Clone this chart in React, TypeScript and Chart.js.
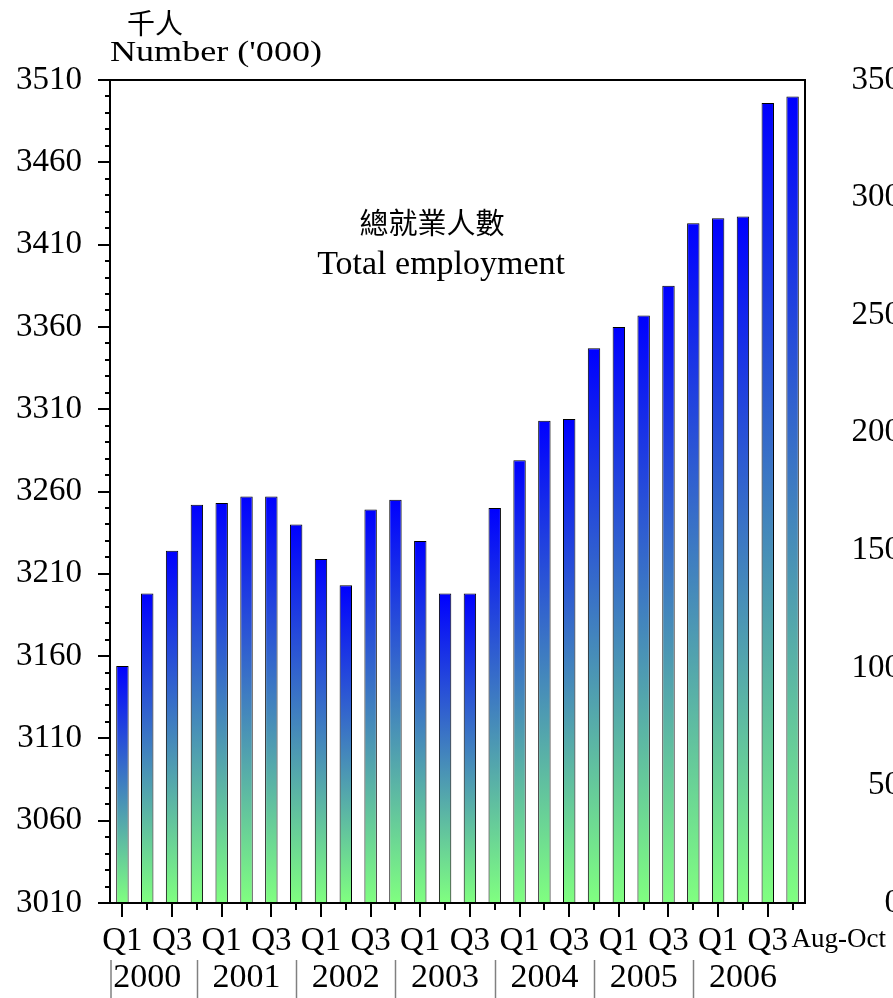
import { useEffect, useRef } from 'react';
import { Chart, registerables } from 'chart.js';

Chart.register(...registerables);

// ---------------- data ----------------
const categories: string[] = [
  'Q1', 'Q2', 'Q3', 'Q4', // 2000
  'Q1', 'Q2', 'Q3', 'Q4', // 2001
  'Q1', 'Q2', 'Q3', 'Q4', // 2002
  'Q1', 'Q2', 'Q3', 'Q4', // 2003
  'Q1', 'Q2', 'Q3', 'Q4', // 2004
  'Q1', 'Q2', 'Q3', 'Q4', // 2005
  'Q1', 'Q2', 'Q3', 'Aug-Oct', // 2006
];
const years: string[] = ['2000', '2001', '2002', '2003', '2004', '2005', '2006'];
const employment: number[] = [
  3154, 3198, 3224, 3252,
  3253, 3257, 3257, 3240,
  3219, 3203, 3249, 3255,
  3230, 3198, 3198, 3250,
  3279, 3303, 3304, 3347,
  3360, 3367, 3385, 3423,
  3426, 3427, 3496, 3500,
];
const leftTicks: number[] = [3010, 3060, 3110, 3160, 3210, 3260, 3310, 3360, 3410, 3460, 3510];
const rightTicks: number[] = [0, 50, 100, 150, 200, 250, 300, 350];
const shownLabels: string[] = ['Q1', 'Q3'];
const unitZh = '千人';
const unitEn = "Number ('000)";
const seriesZh = '總就業人數';
const seriesEn = 'Total employment';

const SERIF = '"Liberation Serif", "Times New Roman", serif';
const CJK = '"Noto Sans CJK TC", "Noto Sans CJK SC", sans-serif';
const MINOR_STEP = 10;

const overlayPlugin = {
  id: 'overlay',
  afterDraw(chart: any) {
    const ctx: CanvasRenderingContext2D = chart.ctx;
    const xs = chart.scales.x;
    const ys = chart.scales.y;
    const { left, right, top, bottom } = chart.chartArea;
    const H = chart.height;
    ctx.save();
    // frame
    ctx.strokeStyle = '#000';
    ctx.lineWidth = 2;
    ctx.strokeRect(left, top, right - left, bottom - top);

    // minor y ticks
    ctx.lineWidth = 2;
    for (let v = ys.min + MINOR_STEP; v < ys.max; v += MINOR_STEP) {
      if (leftTicks.includes(v)) continue;
      const py = Math.round(ys.getPixelForValue(v));
      ctx.beginPath();
      ctx.moveTo(left - 5, py);
      ctx.lineTo(left, py);
      ctx.stroke();
    }

    // x ticks
    categories.forEach((c, i) => {
      const px = Math.round(xs.getPixelForValue(i));
      const len = shownLabels.includes(c) ? 14 : 7;
      ctx.beginPath();
      ctx.moveTo(px, bottom);
      ctx.lineTo(px, bottom + len);
      ctx.stroke();
    });

    // quarter labels
    ctx.fillStyle = '#000';
    ctx.textBaseline = 'alphabetic';
    categories.forEach((c, i) => {
      const px = xs.getPixelForValue(i);
      if (shownLabels.includes(c)) {
        ctx.font = `33px ${SERIF}`;
        ctx.textAlign = 'center';
        ctx.fillText(c, px, bottom + 47);
      } else if (i === categories.length - 1) {
        ctx.font = `27px ${SERIF}`;
        ctx.textAlign = 'left';
        ctx.fillText(c, px - 1, bottom + 44);
      }
    });

    // year labels
    ctx.font = `34px ${SERIF}`;
    ctx.textAlign = 'center';
    years.forEach((yr, k) => {
      const px = xs.getPixelForValue(k * 4 + 1);
      ctx.fillText(yr, px, bottom + 84);
    });

    // year separators
    ctx.strokeStyle = '#808080';
    ctx.lineWidth = 1.5;
    const seps = [left + 1];
    for (let k = 0; k < years.length - 1; k++) seps.push(Math.round(xs.getPixelForValue(k * 4 + 3)) + 0.5);
    seps.forEach((sx) => {
      ctx.beginPath();
      ctx.moveTo(sx, bottom + 57);
      ctx.lineTo(sx, H);
      ctx.stroke();
    });

    // unit titles
    ctx.fillStyle = '#000';
    ctx.font = `28px ${CJK}`;
    ctx.textAlign = 'center';
    ctx.textBaseline = 'middle';
    ctx.fillText(unitZh, left + 45, top - 57);

    ctx.font = `30px ${SERIF}`;
    ctx.textAlign = 'left';
    ctx.textBaseline = 'alphabetic';
    const w = ctx.measureText(unitEn).width;
    ctx.save();
    ctx.translate(left, top - 19);
    ctx.scale(212 / w, 1);
    ctx.fillText(unitEn, 0, 0);
    ctx.restore();

    // series annotation
    const cx = xs.getPixelForValue(13) - 8;
    ctx.font = `29px ${CJK}`;
    ctx.textAlign = 'center';
    ctx.textBaseline = 'middle';
    ctx.fillText(seriesZh, cx - 5, ys.getPixelForValue(3423));
    ctx.font = `34px ${SERIF}`;
    ctx.textBaseline = 'alphabetic';
    ctx.fillText(seriesEn, cx + 4, ys.getPixelForValue(3392));

    ctx.restore();
  },
};

export default function App() {
  const ref = useRef<HTMLCanvasElement | null>(null);

  useEffect(() => {
    if (!ref.current) return;
    Chart.defaults.font.family = SERIF;
    Chart.defaults.color = '#000';
    const chart = new Chart(ref.current, {
      type: 'bar',
      data: {
        labels: categories,
        datasets: [
          {
            label: seriesEn,
            data: employment,
            yAxisID: 'y',
            barPercentage: 0.5,
            categoryPercentage: 1.0,
            borderColor: '#000',
            borderWidth: 1,
            backgroundColor: (c: any) => {
              const ch = c.chart;
              const ys = ch.scales && ch.scales.y;
              if (!ys || c.type !== 'data') return '#0000ff';
              const topPx = ys.getPixelForValue(c.raw as number);
              const botPx = ys.getPixelForValue(ys.min);
              if (!isFinite(topPx) || !isFinite(botPx) || botPx - topPx < 1) return '#0000ff';
              const g = ch.ctx.createLinearGradient(0, topPx, 0, botPx);
              g.addColorStop(0, '#0000ff');
              g.addColorStop(1, '#80ff80');
              return g;
            },
          },
        ],
      },
      options: {
        responsive: false,
        animation: false,
        layout: { padding: { left: 0, right: 0, top: 80, bottom: 0 } },
        plugins: {
          legend: { display: false },
          tooltip: { enabled: false },
          title: { display: false },
        },
        scales: {
          x: {
            type: 'category',
            offset: true,
            grid: { display: false, drawTicks: false },
            border: { display: false },
            ticks: { display: false },
            afterFit: (s: any) => {
              s.height = 95;
            },
          },
          y: {
            type: 'linear',
            position: 'left',
            min: 3010,
            max: 3510,
            afterBuildTicks: (s: any) => {
              s.ticks = leftTicks.map((v) => ({ value: v }));
            },
            afterFit: (s: any) => {
              s.width = 110;
            },
            grid: {
              display: true,
              drawOnChartArea: false,
              drawTicks: true,
              tickLength: 12,
              color: '#000',
              lineWidth: 2,
            },
            border: { display: true, color: '#000', width: 2 },
            ticks: {
              font: { size: 33, family: SERIF },
              color: '#000',
              padding: 16,
              callback: (v: any) => String(v),
            },
          },
          y2: {
            type: 'linear',
            position: 'right',
            min: 0,
            max: 350,
            afterBuildTicks: (s: any) => {
              s.ticks = rightTicks.map((v) => ({ value: v }));
            },
            afterFit: (s: any) => {
              s.width = 96;
            },
            grid: { display: false, drawTicks: false },
            border: { display: false },
            ticks: {
              font: { size: 33, family: SERIF },
              color: '#000',
              padding: 10,
              crossAlign: 'far',
              callback: (v: any) => String(v),
            },
          },
        },
      },
      plugins: [overlayPlugin],
    });
    return () => chart.destroy();
  }, []);

  return (
    <div
      style={{
        position: 'absolute',
        left: 0,
        top: 0,
        width: 893,
        height: 998,
        overflow: 'hidden',
        background: '#fff',
      }}
    >
      <canvas ref={ref} width={901} height={998} style={{ display: 'block' }} />
    </div>
  );
}
